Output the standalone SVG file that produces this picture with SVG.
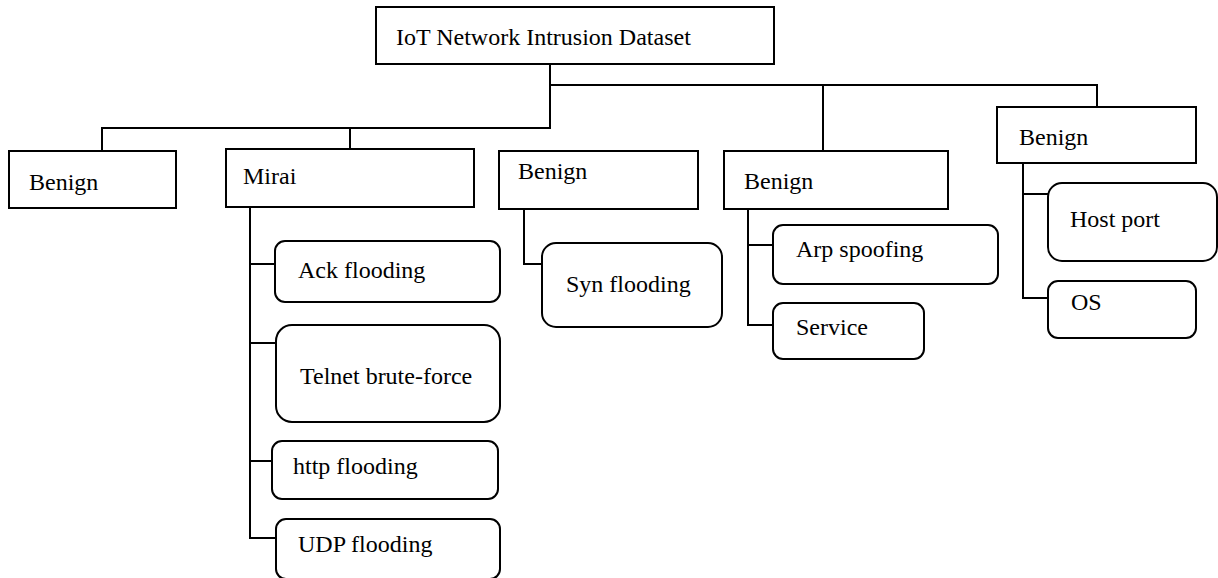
<svg xmlns="http://www.w3.org/2000/svg" width="1218" height="578" viewBox="0 0 1218 578">
<style>
.box{fill:#fff;stroke:#000;stroke-width:2}
.t{font-family:"Liberation Serif","Times New Roman",serif;font-size:24px;fill:#000}
.c{fill:none;stroke:#000;stroke-width:2}
</style>
<rect width="1218" height="578" fill="#fff"/>
<g id="connectors">
<polyline class="c" points="550,64 550,128 102,128 102,150"/>
<polyline class="c" points="350,128 350,149"/>
<polyline class="c" points="550,85 1097,85 1097,107"/>
<polyline class="c" points="823,85 823,151"/>
<polyline class="c" points="250,207 250,538 276,538"/>
<line class="c" x1="250" y1="264" x2="275" y2="264"/>
<line class="c" x1="250" y1="343" x2="276" y2="343"/>
<line class="c" x1="250" y1="461" x2="272" y2="461"/>
<polyline class="c" points="524,209 524,264 542,264"/>
<polyline class="c" points="748,209 748,325 773,325"/>
<line class="c" x1="748" y1="245" x2="773" y2="245"/>
<polyline class="c" points="1023,163 1023,298 1048,298"/>
<line class="c" x1="1023" y1="194" x2="1048" y2="194"/>
</g>
<g id="root"><rect class="box" x="376" y="7" width="398" height="57"/><text class="t" x="396" y="45">IoT Network Intrusion Dataset</text></g>
<g id="benign1"><rect class="box" x="9" y="151" width="167" height="57"/><text class="t" x="29" y="190">Benign</text></g>
<g id="mirai"><rect class="box" x="226" y="149" width="248" height="58"/><text class="t" x="243" y="184">Mirai</text></g>
<g id="ack"><rect class="box" x="275" y="241" width="225" height="61" rx="10"/><text class="t" x="298" y="278">Ack flooding</text></g>
<g id="telnet"><rect class="box" x="276" y="325" width="224" height="97" rx="16"/><text class="t" x="300" y="384">Telnet brute-force</text></g>
<g id="http"><rect class="box" x="272" y="441" width="226" height="58" rx="10"/><text class="t" x="293" y="474">http flooding</text></g>
<g id="udp"><rect class="box" x="276" y="519" width="224" height="60" rx="10"/><text class="t" x="298" y="552">UDP flooding</text></g>
<g id="benign3"><rect class="box" x="499" y="151" width="199" height="58"/><text class="t" x="518" y="179">Benign</text></g>
<g id="syn"><rect class="box" x="542" y="243" width="180" height="84" rx="14"/><text class="t" x="566" y="292">Syn flooding</text></g>
<g id="benign4"><rect class="box" x="724" y="151" width="224" height="58"/><text class="t" x="744" y="189">Benign</text></g>
<g id="arp"><rect class="box" x="773" y="225" width="225" height="59" rx="10"/><text class="t" x="796" y="257">Arp spoofing</text></g>
<g id="service"><rect class="box" x="773" y="303" width="151" height="56" rx="10"/><text class="t" x="796" y="335">Service</text></g>
<g id="benign5"><rect class="box" x="997" y="107" width="199" height="56"/><text class="t" x="1019" y="145">Benign</text></g>
<g id="hostport"><rect class="box" x="1048" y="183" width="169" height="78" rx="14"/><text class="t" x="1070" y="227">Host port</text></g>
<g id="os"><rect class="box" x="1048" y="281" width="148" height="57" rx="10"/><text class="t" x="1071" y="310">OS</text></g>
</svg>
